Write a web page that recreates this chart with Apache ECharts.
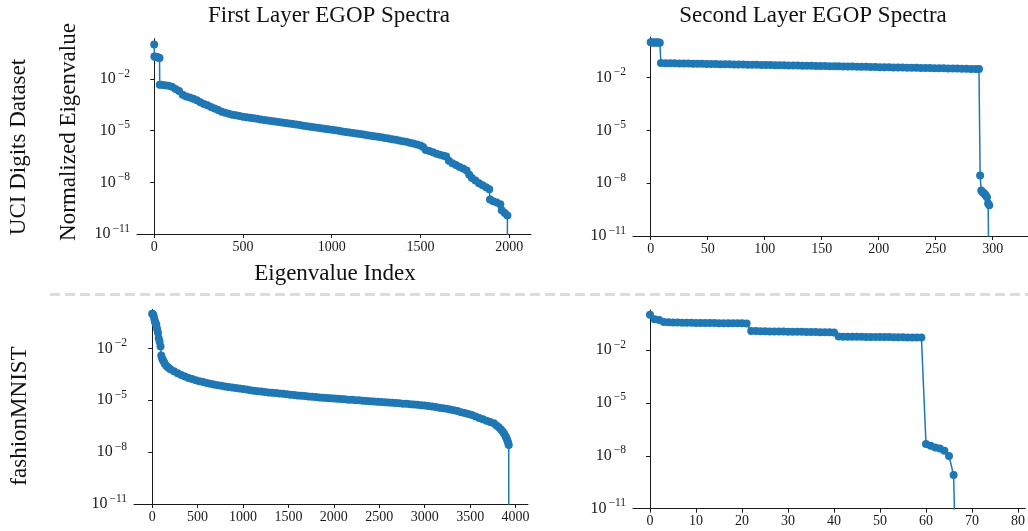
<!DOCTYPE html>
<html>
<head>
<meta charset="utf-8">
<title>EGOP Spectra</title>
<script src="https://cdn.jsdelivr.net/npm/echarts@6.0.0/dist/echarts.min.js"></script>
<style>
  html, body { margin: 0; padding: 0; background: #ffffff; }
  #chart { width: 1028px; height: 531px; }
</style>
</head>
<body>
<div id="chart"></div>
<script>
// UCI digits, first layer EGOP spectrum (index, normalized eigenvalue)
const uciFirstIndex = [
  0, 1, 5, 10, 15, 20, 25, 30, 31, 40, 60, 80, 100, 120, 140, 160, 180, 200, 220, 240,
  260, 280, 300, 320, 340, 360, 380, 400, 420, 440, 460, 480, 500, 520, 540, 560, 580, 600,
  620, 640, 660, 680, 700, 720, 740, 760, 780, 800, 820, 840, 860, 880, 900, 920, 940, 960,
  980, 1000, 1020, 1040, 1060, 1080, 1100, 1120, 1140, 1160, 1180, 1200, 1220, 1240, 1260,
  1280, 1300, 1320, 1340, 1360, 1380, 1400, 1420, 1440, 1460, 1480, 1500, 1515, 1530, 1550,
  1570, 1590, 1610, 1630, 1645, 1660, 1680, 1700, 1720, 1740, 1760, 1775, 1790, 1810, 1830,
  1850, 1870, 1888, 1892, 1910, 1930, 1950, 1958, 1975, 1990, 1991
];
const uciFirstValue = [
  1.0, 0.2, 0.195, 0.19, 0.186, 0.182, 0.174, 0.166, 4.7e-3, 4.6e-3, 4.4e-3, 4.0e-3, 3.5e-3,
  2.6e-3, 2.0e-3, 1.2e-3, 9.5e-4, 8.3e-4, 7.1e-4, 5.8e-4, 4.5e-4, 3.5e-4, 3.0e-4, 2.4e-4,
  1.95e-4, 1.6e-4, 1.26e-4, 1.1e-4, 9.5e-5, 8.5e-5, 7.8e-5, 7.1e-5, 6.5e-5, 6.0e-5, 5.6e-5,
  5.2e-5, 4.9e-5, 4.5e-5, 4.2e-5, 3.9e-5, 3.6e-5, 3.4e-5, 3.2e-5, 2.95e-5, 2.75e-5, 2.6e-5,
  2.4e-5, 2.25e-5, 2.1e-5, 1.95e-5, 1.8e-5, 1.7e-5, 1.6e-5, 1.5e-5, 1.4e-5, 1.3e-5, 1.2e-5,
  1.12e-5, 1.05e-5, 9.8e-6, 9.1e-6, 8.5e-6, 7.9e-6, 7.4e-6, 6.9e-6, 6.5e-6, 5.9e-6, 5.5e-6,
  5.1e-6, 4.8e-6, 4.5e-6, 4.1e-6, 3.8e-6, 3.5e-6, 3.2e-6, 2.95e-6, 2.7e-6, 2.45e-6, 2.25e-6,
  2.0e-6, 1.8e-6, 1.6e-6, 1.4e-6, 1.12e-6, 7.6e-7, 6.6e-7, 5.5e-7, 4.6e-7, 4.0e-7, 3.5e-7,
  3.2e-7, 1.8e-7, 1.3e-7, 1.0e-7, 7.9e-8, 6.3e-8, 4.8e-8, 2.8e-8, 1.8e-8, 1.26e-8, 8.9e-9,
  6.8e-9, 5.2e-9, 4.0e-9, 1.0e-9, 7.9e-10, 6.8e-10, 5.4e-10, 2.4e-10, 1.66e-10, 1.2e-10, 1e-20
];

// UCI digits, second layer
const uciSecondIndex = [
  0, 1, 2, 3, 4, 5, 6, 7, 8, 9, 13, 17, 21, 25, 29, 33, 37, 41, 45, 49, 53, 57, 61, 65, 69,
  73, 77, 81, 85, 89, 93, 97, 101, 105, 109, 113, 117, 121, 125, 129, 133, 137, 141, 145,
  149, 153, 157, 161, 165, 169, 173, 177, 181, 185, 189, 193, 197, 201, 205, 209, 213, 217,
  221, 225, 229, 233, 237, 241, 245, 249, 253, 257, 261, 265, 269, 273, 277, 281, 285, 288,
  289, 290, 291, 292, 293, 294, 295, 296, 297, 298
];
const uciSecondValue = [
  1.0, 0.99, 0.985, 0.98, 0.975, 0.97, 0.965, 0.96, 0.955,
  0.0661, 0.0653, 0.0646, 0.0638, 0.0631, 0.0624, 0.0617, 0.0610, 0.0603, 0.0596,
  0.0589, 0.0583, 0.0577, 0.0570, 0.0565, 0.0558, 0.0552, 0.0547, 0.0541, 0.0535,
  0.0530, 0.0524, 0.0518, 0.0513, 0.0507, 0.0501, 0.0497, 0.0491, 0.0485, 0.0481,
  0.0475, 0.0470, 0.0466, 0.0460, 0.0455, 0.0451, 0.0446, 0.0441, 0.0437, 0.0432,
  0.0427, 0.0422, 0.0417, 0.0412, 0.0407, 0.0403, 0.0398, 0.0394, 0.0389, 0.0385,
  0.0380, 0.0376, 0.0372, 0.0367, 0.0363, 0.0359, 0.0355, 0.0351, 0.0347, 0.0343,
  0.0339, 0.0335, 0.0331, 0.0327, 0.0324, 0.0320, 0.0316, 0.0313, 0.0309, 0.0305,
  0.0302, 2.7e-8, 3.8e-9, 3.2e-9, 2.8e-9, 2.4e-9, 2.0e-9, 1.6e-9, 7.1e-10, 5.6e-10, 1e-20
];

// fashionMNIST, first layer
const fashionFirstIndex = [
  0, 8, 16, 24, 30, 38, 46, 55, 64, 72, 82, 92, 100, 110, 120, 130, 140, 160, 180,
  200, 240, 280, 320, 360, 400, 440, 480, 520, 560, 600, 640, 680, 720, 760, 800, 840, 880,
  920, 960, 1000, 1040, 1080, 1120, 1160, 1200, 1240, 1280, 1320, 1360, 1400, 1440, 1480,
  1520, 1560, 1600, 1640, 1680, 1720, 1760, 1800, 1840, 1880, 1920, 1960, 2000, 2040, 2080,
  2120, 2160, 2200, 2240, 2280, 2320, 2360, 2400, 2440, 2480, 2520, 2560, 2600, 2640, 2680,
  2720, 2760, 2800, 2840, 2880, 2920, 2960, 3000, 3040, 3080, 3120, 3160, 3200, 3240, 3280,
  3320, 3360, 3400, 3440, 3480, 3520, 3560, 3600, 3640, 3680, 3720, 3760,
  3790, 3815, 3840, 3860, 3875, 3890, 3900, 3910, 3918, 3925, 3926
];
const fashionFirstValue = [
  1.0, 0.93, 0.76, 0.5, 0.355, 0.28, 0.22, 0.126, 0.079, 0.038, 0.024, 0.0126, 3.8e-3,
  2.6e-3, 2.0e-3, 1.6e-3, 1.26e-3, 9.3e-4, 7.4e-4,
  6.2e-4, 4.7e-4, 3.6e-4, 2.9e-4, 2.35e-4, 1.95e-4, 1.66e-4, 1.41e-4, 1.26e-4, 1.12e-4,
  1.0e-4, 8.9e-5, 8.1e-5, 7.4e-5, 6.8e-5, 6.2e-5, 5.8e-5, 5.4e-5, 5.0e-5, 4.7e-5,
  4.4e-5, 4.1e-5, 3.8e-5, 3.55e-5, 3.3e-5, 3.16e-5, 3.0e-5, 2.8e-5, 2.7e-5, 2.57e-5,
  2.45e-5, 2.34e-5, 2.24e-5, 2.1e-5, 2.0e-5, 1.9e-5, 1.82e-5, 1.74e-5, 1.66e-5, 1.58e-5,
  1.51e-5, 1.45e-5, 1.38e-5, 1.32e-5, 1.29e-5, 1.26e-5, 1.2e-5, 1.17e-5, 1.12e-5, 1.07e-5,
  1.05e-5, 1.0e-5, 9.8e-6, 9.3e-6, 9.1e-6, 8.7e-6, 8.5e-6, 8.1e-6, 7.9e-6, 7.6e-6,
  7.4e-6, 7.1e-6, 6.9e-6, 6.6e-6, 6.3e-6, 6.2e-6, 5.9e-6, 5.6e-6, 5.4e-6, 5.1e-6,
  4.9e-6, 4.6e-6, 4.3e-6, 4.0e-6, 3.7e-6, 3.4e-6, 3.16e-6, 2.9e-6, 2.6e-6, 2.35e-6,
  2.04e-6, 1.82e-6, 1.62e-6, 1.38e-6, 1.15e-6, 9.5e-7, 7.9e-7, 6.6e-7, 5.5e-7, 4.6e-7,
  3.5e-7, 2.7e-7, 2.0e-7, 1.5e-7, 1.17e-7, 8.3e-8, 6.3e-8, 4.7e-8, 3.5e-8, 2.6e-8, 1e-20
];

// fashionMNIST, second layer
const fashionSecondIndex = [
  0, 1, 2, 3, 4, 5, 6, 7, 8, 9, 10, 11, 12, 13, 14, 15, 16, 17, 18, 19, 20, 21,
  22, 23, 24, 25, 26, 27, 28, 29, 30, 31, 32, 33, 34, 35, 36, 37, 38, 39, 40,
  41, 42, 43, 44, 45, 46, 47, 48, 49, 50, 51, 52, 53, 54, 55, 56, 57, 58, 59,
  60, 61, 62, 63, 64, 65, 66, 67
];
const fashionSecondValue = [
  1.0, 0.55, 0.5, 0.39, 0.37, 0.36, 0.36, 0.355, 0.35, 0.35, 0.345, 0.345, 0.34, 0.34,
  0.34, 0.335, 0.335, 0.33, 0.33, 0.33, 0.325, 0.32,
  0.12, 0.118, 0.116, 0.115, 0.114, 0.113, 0.112, 0.111, 0.11, 0.109, 0.108, 0.107,
  0.106, 0.105, 0.104, 0.103, 0.102, 0.101, 0.1,
  0.058, 0.057, 0.057, 0.056, 0.056, 0.056, 0.055, 0.055, 0.055, 0.054, 0.054, 0.054,
  0.053, 0.053, 0.053, 0.052, 0.052, 0.052, 0.051,
  4.7e-8, 3.7e-8, 3.0e-8, 2.6e-8, 1.95e-8, 9.8e-9, 8.1e-10, 1e-20
];

const yTicks = [1e-11, 1e-8, 1e-5, 1e-2];
const xTicksUciFirst = [0, 500, 1000, 1500, 2000];
const xTicksUciSecond = [0, 50, 100, 150, 200, 250, 300];
const xTicksFashionFirst = [0, 500, 1000, 1500, 2000, 2500, 3000, 3500, 4000];
const xTicksFashionSecond = [0, 10, 20, 30, 40, 50, 60, 70, 80];

const FONT = '"Liberation Serif", "DejaVu Serif", serif';
const BLUE = "#1f77b4";
const INK = "#1a1a1a";

function toPairs(xs, ys) {
  return xs.map((x, i) => [x, ys[i]]);
}

function xAxisFor(gridIndex, min, max, ticks) {
  return {
    type: "value",
    gridIndex,
    min,
    max,
    axisLine: { show: true, onZero: false, lineStyle: { color: INK, width: 1 } },
    axisTick: { show: true, length: 4, customValues: ticks, lineStyle: { color: INK, width: 1 } },
    axisLabel: {
      customValues: ticks,
      margin: 6,
      color: INK,
      fontFamily: FONT,
      fontSize: 14,
      formatter: (value) => String(value)
    },
    splitLine: { show: false }
  };
}

function yAxisFor(gridIndex, max) {
  return {
    type: "log",
    logBase: 10,
    gridIndex,
    min: 1e-11,
    max,
    axisLine: { show: true, lineStyle: { color: INK, width: 1 } },
    axisTick: { show: true, length: 4, customValues: yTicks, lineStyle: { color: INK, width: 1 } },
    axisLabel: {
      customValues: yTicks,
      margin: 7,
      color: INK,
      fontFamily: FONT,
      formatter(value) {
        return "{b|10}{s|\u2212" + Math.round(-Math.log10(value)) + "}";
      },
      rich: {
        b: { fontFamily: FONT, fontSize: 16, lineHeight: 16, color: INK },
        s: { fontFamily: FONT, fontSize: 11.5, lineHeight: 11.5, color: INK, padding: [0, 0, 11, 2] }
      }
    },
    splitLine: { show: false },
    minorTick: { show: false }
  };
}

function seriesFor(index, xs, ys) {
  return {
    type: "line",
    xAxisIndex: index,
    yAxisIndex: index,
    data: toPairs(xs, ys),
    symbol: "circle",
    symbolSize: 8,
    showSymbol: true,
    clip: true,
    lineStyle: { color: BLUE, width: 1.5 },
    itemStyle: { color: BLUE, borderWidth: 0 },
    emphasis: { disabled: true },
    animation: false
  };
}

function label(text, x, y, rotated) {
  return {
    type: "text",
    x,
    y,
    rotation: rotated ? Math.PI / 2 : 0,
    style: {
      text,
      fill: "#111111",
      font: "23px " + FONT,
      align: "center",
      verticalAlign: "middle"
    }
  };
}

const chart = echarts.init(document.getElementById("chart"), null, { renderer: "canvas" });

chart.setOption({
  backgroundColor: "#ffffff",
  animation: false,
  grid: [
    { left: 137, top: 38.7, width: 394, height: 195.3 },
    { left: 633, top: 37, width: 395, height: 199 },
    { left: 134, top: 309.3, width: 394, height: 194.7 },
    { left: 633, top: 310, width: 395, height: 198.7 }
  ],
  xAxis: [
    xAxisFor(0, -97, 2123, xTicksUciFirst),
    xAxisFor(1, -15.5, 331, xTicksUciSecond),
    xAxisFor(2, -200, 4137, xTicksFashionFirst),
    xAxisFor(3, -3.7, 81.6, xTicksFashionSecond)
  ],
  yAxis: [
    yAxisFor(0, 2.19),
    yAxisFor(1, 2.0),
    yAxisFor(2, 1.8),
    yAxisFor(3, 1.86)
  ],
  series: [
    seriesFor(0, uciFirstIndex, uciFirstValue),
    seriesFor(1, uciSecondIndex, uciSecondValue),
    seriesFor(2, fashionFirstIndex, fashionFirstValue),
    seriesFor(3, fashionSecondIndex, fashionSecondValue)
  ],
  graphic: [
    label("First Layer EGOP Spectra", 329, 16, false),
    label("Second Layer EGOP Spectra", 813, 16, false),
    label("Normalized Eigenvalue", 69, 132, true),
    label("UCI Digits Dataset", 19, 147, true),
    label("Eigenvalue Index", 335, 274, false),
    label("fashionMNIST", 20, 416, true),
    {
      type: "line",
      shape: { x1: 50, y1: 294.5, x2: 1028, y2: 294.5 },
      style: { stroke: "#dcdcdc", lineWidth: 3, lineDash: [10, 5] },
      silent: true
    }
  ]
});
</script>
</body>
</html>
